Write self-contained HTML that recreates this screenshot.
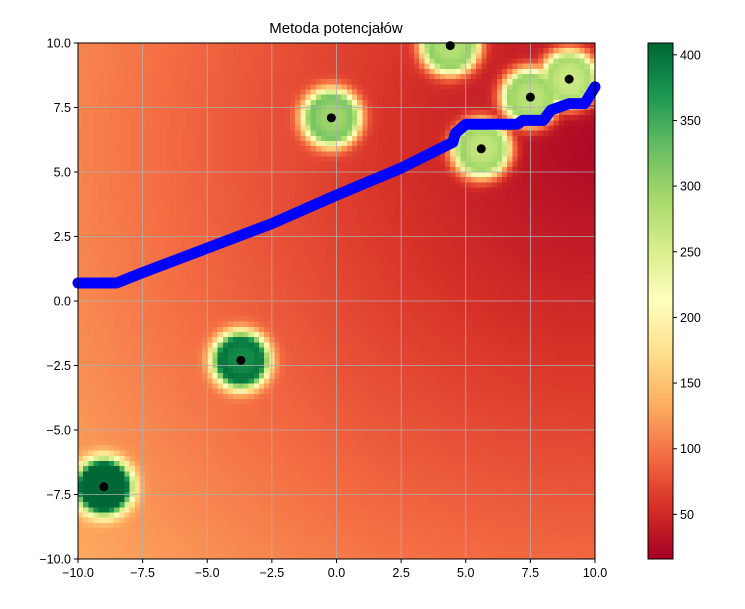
<!DOCTYPE html>
<html><head><meta charset="utf-8">
<style>
body{margin:0;background:#fff;width:745px;height:609px;overflow:hidden;font-family:"Liberation Sans",sans-serif;}
#wrap{position:relative;width:745px;height:609px;}
canvas{position:absolute;image-rendering:pixelated;}
svg{position:absolute;left:0;top:0;}
text{font-family:"Liberation Sans",sans-serif;font-size:12.5px;fill:#000;}
</style></head><body>
<div id="wrap">
<canvas id="heat" width="100" height="100" style="left:78px;top:43px;width:517px;height:516px"></canvas>
<canvas id="cbar" width="1" height="200" style="left:648px;top:43px;width:25px;height:516px"></canvas>
<svg id="svg" width="745" height="609"></svg>
</div>
<script>
const obsX=[-9,-3.7,-0.2,4.4,5.6,7.5,9];
const obsY=[-7.2,-2.3,7.1,9.9,5.9,7.9,8.6];
const obsV=[300,290,230,230,230,240,230];
const pathX=[-10,-8.5,-7.5,-5,-2.5,0,2.5,4.5,4.6,5,7,7.2,8,8.3,9,9.6,10];
const pathY=[0.7,0.7,1.1,2.05,3.0,4.1,5.15,6.15,6.5,6.85,6.85,7.0,7.0,7.4,7.65,7.65,8.3];
const xTicks=[-10,-7.5,-5,-2.5,0,2.5,5,7.5,10];
const yTicks=[-10,-7.5,-5,-2.5,0,2.5,5,7.5,10];
const cTicks=[50,100,150,200,250,300,350,400];
const vmin=16,vmax=409;
const L=78,R=595,T=43,B=559;
const sx=v=>L+(v+10)/20*(R-L);
const sy=v=>B-(v+10)/20*(B-T);
const stops=["#a50026","#d73027","#f46d43","#fdae61","#fee08b","#ffffbf","#d9ef8b","#a6d96a","#66bd63","#1a9850","#006837"].map(h=>[parseInt(h.slice(1,3),16),parseInt(h.slice(3,5),16),parseInt(h.slice(5,7),16)]);
function cmap(v){let t=Math.max(0,Math.min(1,(v-vmin)/(vmax-vmin)))*10;let i=Math.min(9,Math.floor(t));let f=t-i;const a=stops[i],b=stops[i+1];return [a[0]+(b[0]-a[0])*f,a[1]+(b[1]-a[1])*f,a[2]+(b[2]-a[2])*f];}
function field(x,y){let d=Math.hypot(x-10,y-6);let bg=22+4.3*d;let best=0;for(let k=0;k<obsX.length;k++){let r=Math.hypot(x-obsX[k],y-obsY[k]);let b=obsV[k]/(1+Math.pow(r/1.0,10))+70*Math.exp(-Math.pow((r-1.05)/0.35,2));if(b>best)best=b;}return bg+best;}
const hc=document.getElementById('heat').getContext('2d');const img=hc.createImageData(100,100);
for(let j=0;j<100;j++)for(let i=0;i<100;i++){const x=-10+(i+0.5)*0.2,y=10-(j+0.5)*0.2;const c=cmap(field(x,y));const p=(j*100+i)*4;img.data[p]=c[0];img.data[p+1]=c[1];img.data[p+2]=c[2];img.data[p+3]=255;}
hc.putImageData(img,0,0);
const cc=document.getElementById('cbar').getContext('2d');
for(let j=0;j<200;j++){const c=cmap(vmax-(j+0.5)/200*(vmax-vmin));cc.fillStyle=`rgb(${c[0]|0},${c[1]|0},${c[2]|0})`;cc.fillRect(0,j,1,1);}
const svg=document.getElementById('svg');const NS='http://www.w3.org/2000/svg';
function el(t,a,txt){const e=document.createElementNS(NS,t);for(const k in a)e.setAttribute(k,a[k]);if(txt!==undefined)e.textContent=txt;svg.appendChild(e);return e;}
xTicks.forEach(v=>{const g=el('line',{x1:sx(v),x2:sx(v),y1:T,y2:B,stroke:'#b0b0b0','stroke-width':0.8});});
yTicks.forEach(v=>{const g=el('line',{x1:L,x2:R,y1:sy(v),y2:sy(v),stroke:'#b0b0b0','stroke-width':0.8});});
let d='';pathX.forEach((x,i)=>{d+=(i?'L':'M')+sx(x)+' '+sy(pathY[i]);});
const p=el('path',{d:d,fill:'none',stroke:'#0000ff','stroke-width':11,'stroke-linejoin':'round','stroke-linecap':'round'});


obsX.forEach((x,i)=>{const c=el('circle',{cx:sx(x),cy:sy(obsY[i]),r:4.5,fill:'#000'});});
const fr=el('rect',{x:L,y:T,width:R-L,height:B-T,fill:'none',stroke:'#000','stroke-width':1});


xTicks.forEach(v=>{el('line',{x1:sx(v),x2:sx(v),y1:B,y2:B+4,stroke:'#000'});const t=el('text',{x:sx(v),y:B+18,'text-anchor':'middle'},v.toFixed(1).replace('-','−'));});
yTicks.forEach(v=>{el('line',{x1:L-4,x2:L,y1:sy(v),y2:sy(v),stroke:'#000'});const t=el('text',{x:L-7,y:sy(v)+4.5,'text-anchor':'end'},v.toFixed(1).replace('-','−'));});
const cb=el('rect',{x:648,y:T,width:25,height:B-T,fill:'none',stroke:'#000','stroke-width':1});


cTicks.forEach(v=>{const y=B-(v-vmin)/(vmax-vmin)*(B-T);el('line',{x1:673,x2:677,y1:y,y2:y,stroke:'#000'});const t=el('text',{x:680,y:y+4.5},String(v));});
const ti=el('text',{x:336,y:33,'text-anchor':'middle',style:'font-size:15px'},'Metoda potencjałów');


</script>
</body></html>
